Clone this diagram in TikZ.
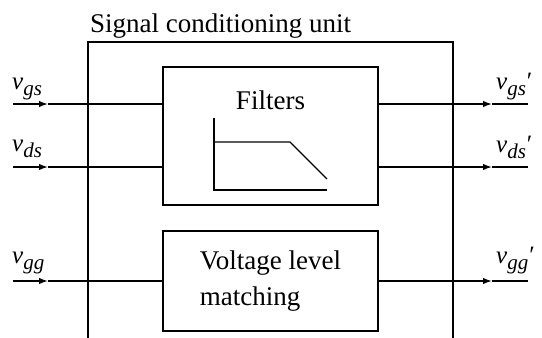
\documentclass[tikz,border=0pt]{standalone}
\usepackage{fontspec}
\setmainfont{Liberation Serif}
\usetikzlibrary{arrows.meta}
\newcommand{\sig}[2]{\textit{v}\raisebox{-6pt}{\fontsize{21}{21}\selectfont\textit{#1}}#2}
\begin{document}
\begin{tikzpicture}[x=1pt,y=-1pt,
  ln/.style={line width=1.4pt,draw=black},
  arr/.style={ln,-{Latex[length=9pt,width=6.5pt]}},
  blk/.style={ln,rectangle,inner sep=0pt},
  big/.style={font=\fontsize{27}{36}\selectfont},
  lab/.style={font=\fontsize{25}{25}\selectfont,anchor=base west,inner sep=0pt}]
\useasboundingbox (0,0) rectangle (542,338);
\fill[white] (0,0) rectangle (542,338);
% outer unit
\coordinate (o1) at (88,338);
\coordinate (o2) at (88,42);
\coordinate (o3) at (453,42);
\coordinate (o4) at (453,338);
\draw[ln] (o1) -- (o2) -- (o3) -- (o4);
\node[big,anchor=base west,inner sep=0pt] (title) at (90,32) {Signal conditioning unit};
% blocks
\node[blk,minimum width=215pt,minimum height=138pt] (filt) at (270.5,136) {};
\node[big,anchor=base,inner sep=0pt] (ftext) at (270.5,109) {Filters};
\node[blk,big,minimum width=215pt,minimum height=100pt,align=left] (volt) at (270.5,281) {Voltage level\\matching};
% filter sketch
\coordinate (ax1) at (214,118);
\coordinate (ax2) at (214,190);
\coordinate (ax3) at (327,190);
\coordinate (r1) at (214,142);
\coordinate (r2) at (290,142);
\coordinate (r3) at (327,179);
\draw[ln] (ax1) -- (ax2) -- (ax3);
\draw[ln] (r1) -- (r2) -- (r3);
% inputs
\foreach \n/\y in {a/104,b/167,c/281}{
  \coordinate (in\n) at (13,\y);
  \coordinate (ia\n) at (48,\y);
  \coordinate (out\n) at (528,\y);
  \coordinate (oa\n) at (492,\y);
}
\draw[arr] (ina) -- (iaa); \draw[ln] (iaa) -- (filt.west |- ina);
\draw[arr] (inb) -- (iab); \draw[ln] (iab) -- (filt.west |- inb);
\draw[arr] (inc) -- (iac); \draw[ln] (iac) -- (volt.west);
\draw[arr] (filt.east |- outa) -- (oaa); \draw[ln] (oaa) -- (outa);
\draw[arr] (filt.east |- outb) -- (oab); \draw[ln] (oab) -- (outb);
\draw[arr] (volt.east) -- (oac); \draw[ln] (oac) -- (outc);
% labels
\node[lab] (l1) at (12,89) {\sig{gs}{}};
\node[lab] (l2) at (12,151) {\sig{ds}{}};
\node[lab] (l3) at (12,263) {\sig{gg}{}};
\node[lab] (r1l) at (496,89) {\sig{gs}{\kern1pt′}};
\node[lab] (r2l) at (496,152) {\sig{ds}{\kern1pt′}};
\node[lab] (r3l) at (496,263) {\sig{gg}{\kern1pt′}};
\end{tikzpicture}
\end{document}
